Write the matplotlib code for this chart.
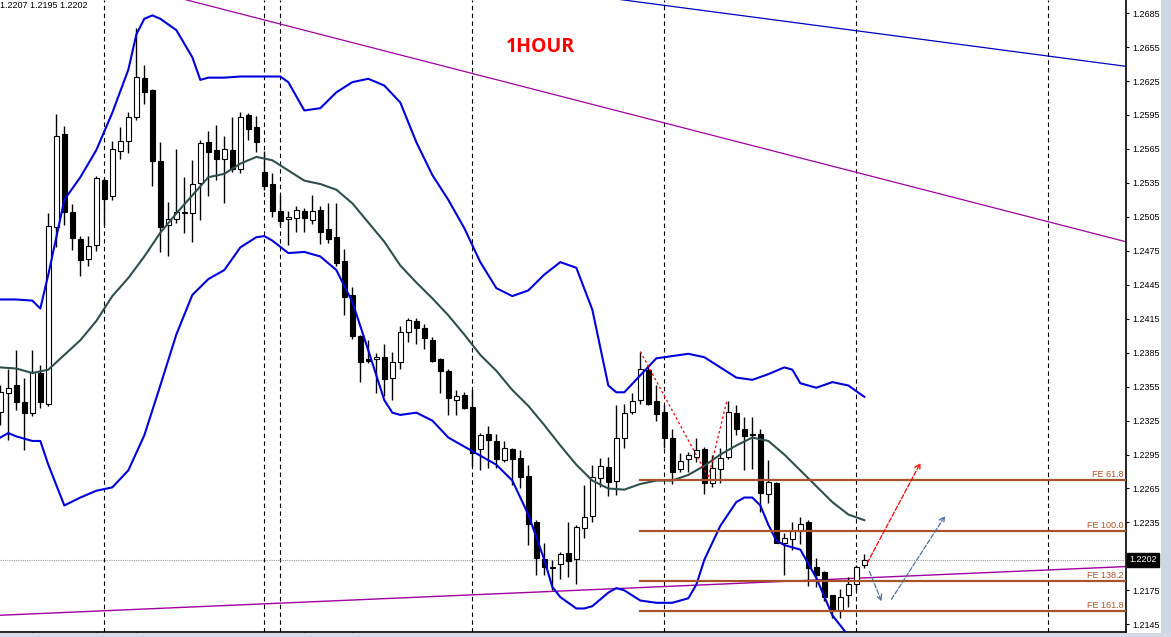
import matplotlib.pyplot as plt
from matplotlib.patches import Rectangle
import matplotlib.transforms as mtransforms

plt.rcParams['font.family'] = ['Liberation Sans', 'DejaVu Sans']

# EURUSD H1 candles, oldest first (bar 0 = left edge)
opens = [1.2333, 1.2349, 1.2356, 1.2341, 1.2332, 1.2367, 1.2340, 1.2496, 1.2578, 1.2509,
         1.2485, 1.2468, 1.2480, 1.2538, 1.2523, 1.2563, 1.2572, 1.2593, 1.2628, 1.2617,
         1.2554, 1.2498, 1.2503, 1.2508, 1.2508, 1.2535, 1.2571, 1.2564, 1.2556, 1.2564,
         1.2547, 1.2595, 1.2584, 1.2545, 1.2534, 1.2510, 1.2503, 1.2504, 1.2510, 1.2502,
         1.2511, 1.2494, 1.2487, 1.2466, 1.2436, 1.2400, 1.2379, 1.2379, 1.2381, 1.2363,
         1.2377, 1.2403, 1.2413, 1.2407, 1.2396, 1.2379, 1.2369, 1.2343, 1.2348, 1.2337,
         1.2300, 1.2313, 1.2307, 1.2290, 1.2300, 1.2292, 1.2276, 1.2235, 1.2203, 1.2196,
         1.2198, 1.2208, 1.2203, 1.2230, 1.2241, 1.2274, 1.2284, 1.2272, 1.2310, 1.2333,
         1.2343, 1.2370, 1.2342, 1.2333, 1.2310, 1.2282, 1.2291, 1.2293, 1.2300, 1.2270,
         1.2282, 1.2293, 1.2332, 1.2318, 1.2313, 1.2313, 1.2260, 1.2270, 1.2217, 1.2220,
         1.2227, 1.2235, 1.2196, 1.2191, 1.2171, 1.2157, 1.2171, 1.2181, 1.2197]
closes = [1.2350, 1.2354, 1.2341, 1.2332, 1.2368, 1.2341, 1.2497, 1.2576, 1.2509, 1.2486,
          1.2467, 1.2479, 1.2539, 1.2521, 1.2565, 1.2572, 1.2593, 1.2629, 1.2615, 1.2554,
          1.2496, 1.2503, 1.2509, 1.2509, 1.2534, 1.2570, 1.2562, 1.2556, 1.2565, 1.2547,
          1.2593, 1.2583, 1.2571, 1.2532, 1.2510, 1.2501, 1.2505, 1.2511, 1.2504, 1.2510,
          1.2492, 1.2485, 1.2464, 1.2434, 1.2400, 1.2377, 1.2378, 1.2381, 1.2362, 1.2377,
          1.2403, 1.2414, 1.2407, 1.2398, 1.2378, 1.2369, 1.2345, 1.2347, 1.2336, 1.2296,
          1.2312, 1.2308, 1.2291, 1.2301, 1.2291, 1.2275, 1.2234, 1.2204, 1.2196, 1.2195,
          1.2207, 1.2201, 1.2231, 1.2240, 1.2275, 1.2285, 1.2271, 1.2310, 1.2332, 1.2342,
          1.2371, 1.2340, 1.2331, 1.2310, 1.2280, 1.2289, 1.2295, 1.2299, 1.2270, 1.2283,
          1.2292, 1.2333, 1.2318, 1.2311, 1.2312, 1.2261, 1.2271, 1.2217, 1.2221, 1.2227,
          1.2234, 1.2195, 1.2189, 1.2169, 1.2158, 1.2169, 1.2181, 1.2196, 1.2202]
highs = [1.2356, 1.2371, 1.2387, 1.2363, 1.2387, 1.2374, 1.2508, 1.2596, 1.2585, 1.2516,
         1.2488, 1.2488, 1.2541, 1.2539, 1.2572, 1.2584, 1.2598, 1.2672, 1.2639, 1.2618,
         1.2571, 1.2518, 1.2565, 1.2540, 1.2555, 1.2573, 1.2581, 1.2586, 1.2576, 1.2593,
         1.2598, 1.2597, 1.2594, 1.2563, 1.2544, 1.2524, 1.2510, 1.2515, 1.2513, 1.2524,
         1.2515, 1.2517, 1.2517, 1.2477, 1.2443, 1.2401, 1.2396, 1.2385, 1.2393, 1.2386,
         1.2409, 1.2416, 1.2416, 1.2410, 1.2399, 1.2380, 1.2371, 1.2352, 1.2350, 1.2352,
         1.2314, 1.2320, 1.2313, 1.2307, 1.2301, 1.2299, 1.2286, 1.2237, 1.2217, 1.2202,
         1.2209, 1.2235, 1.2233, 1.2268, 1.2286, 1.2292, 1.2293, 1.2339, 1.2340, 1.2349,
         1.2386, 1.2372, 1.2356, 1.2339, 1.2318, 1.2296, 1.2297, 1.2310, 1.2302, 1.2295,
         1.2301, 1.2342, 1.2339, 1.2328, 1.2328, 1.2318, 1.2290, 1.2271, 1.2226, 1.2235,
         1.2240, 1.2237, 1.2204, 1.2192, 1.2171, 1.2176, 1.2187, 1.2197, 1.2207]
lows = [1.2321, 1.2308, 1.2334, 1.2299, 1.2329, 1.2336, 1.2338, 1.2478, 1.2498, 1.2476,
        1.2453, 1.2462, 1.2475, 1.2498, 1.2520, 1.2556, 1.2561, 1.2591, 1.2605, 1.2532,
        1.2474, 1.2470, 1.2500, 1.2491, 1.2483, 1.2502, 1.2523, 1.2538, 1.2517, 1.2545,
        1.2544, 1.2573, 1.2562, 1.2529, 1.2505, 1.2498, 1.2480, 1.2492, 1.2492, 1.2499,
        1.2481, 1.2482, 1.2462, 1.2418, 1.2397, 1.2359, 1.2376, 1.2349, 1.2347, 1.2343,
        1.2371, 1.2394, 1.2393, 1.2388, 1.2377, 1.2349, 1.2330, 1.2330, 1.2335, 1.2285,
        1.2281, 1.2283, 1.2283, 1.2288, 1.2268, 1.2265, 1.2215, 1.2189, 1.2189, 1.2175,
        1.2185, 1.2187, 1.2181, 1.2221, 1.2235, 1.2266, 1.2258, 1.2259, 1.2301, 1.2331,
        1.2340, 1.2339, 1.2325, 1.2301, 1.2269, 1.2280, 1.2280, 1.2288, 1.2260, 1.2266,
        1.2270, 1.2291, 1.2312, 1.2281, 1.2282, 1.2244, 1.2252, 1.2217, 1.2189, 1.2211,
        1.2216, 1.2179, 1.2178, 1.2166, 1.2151, 1.2151, 1.2160, 1.2175, 1.2195]

upper_bar = [0, 2, 4, 5, 6, 8, 10, 12, 14, 16, 17, 18, 19, 20, 22, 24, 25, 26, 28, 30, 32, 34, 35,
             36, 38, 40, 42, 44, 46, 48, 50, 52, 54, 56, 58, 60, 62, 64, 66, 68, 70, 72, 74, 76,
             77, 78, 80, 82, 84, 86, 88, 90, 92, 94, 96, 98, 99, 100, 102, 104, 106, 108]
upper_val = [1.2432, 1.2432, 1.2431, 1.2424, 1.2454, 1.2520, 1.2540, 1.2564, 1.2597, 1.2635,
             1.2666, 1.2680, 1.2683, 1.2680, 1.2670, 1.2646, 1.2626, 1.2628, 1.2628, 1.2629,
             1.2629, 1.2629, 1.2629, 1.2624, 1.2599, 1.2601, 1.2615, 1.2624, 1.2627, 1.2621,
             1.2606, 1.2571, 1.2542, 1.2520, 1.2495, 1.2465, 1.2442, 1.2435, 1.2440, 1.2454,
             1.2465, 1.2460, 1.2423, 1.2356, 1.2350, 1.2350, 1.2365, 1.2380, 1.2382, 1.2384,
             1.2381, 1.2372, 1.2363, 1.2361, 1.2366, 1.2372, 1.2370, 1.2358, 1.2354, 1.2359,
             1.2356, 1.2346]
middle_bar = list(range(0, 109, 2))
middle_val = [1.2372, 1.2371, 1.2367, 1.2370, 1.2383, 1.2396, 1.2413, 1.2435, 1.2451, 1.2470,
              1.2491, 1.2508, 1.2524, 1.2540, 1.2543, 1.2552, 1.2558, 1.2555, 1.2546, 1.2537,
              1.2534, 1.2529, 1.2517, 1.2500, 1.2483, 1.2462, 1.2447, 1.2433, 1.2418, 1.2401,
              1.2383, 1.2369, 1.2352, 1.2338, 1.2321, 1.2303, 1.2286, 1.2272, 1.2265, 1.2264,
              1.2269, 1.2272, 1.2272, 1.2277, 1.2285, 1.2295, 1.2303, 1.2310, 1.2307, 1.2295,
              1.2281, 1.2267, 1.2253, 1.2242, 1.2237]
lower_bar = [0, 1, 2, 4, 5, 6, 8, 10, 12, 14, 16, 18, 20, 22, 24, 26, 28, 30, 32, 33, 34, 36, 38,
             40, 42, 44, 46, 48, 49, 50, 52, 54, 56, 58, 60, 62, 64, 66, 68, 69, 70, 72, 73, 74,
             76, 77, 78, 80, 82, 84, 86, 87, 88, 90, 92, 93, 94, 95, 96, 97, 98, 100, 102, 104, 106]
lower_val = [1.2310, 1.2314, 1.2311, 1.2307, 1.2307, 1.2286, 1.2250, 1.2257, 1.2263, 1.2266,
             1.2281, 1.2312, 1.2356, 1.2401, 1.2436, 1.2450, 1.2458, 1.2478, 1.2487, 1.2488,
             1.2484, 1.2473, 1.2474, 1.2470, 1.2458, 1.2430, 1.2387, 1.2343, 1.2332, 1.2330,
             1.2332, 1.2325, 1.2310, 1.2302, 1.2294, 1.2286, 1.2272, 1.2242, 1.2202, 1.2178,
             1.2169, 1.2159, 1.2159, 1.2161, 1.2173, 1.2177, 1.2175, 1.2166, 1.2164, 1.2164,
             1.2168, 1.2180, 1.2202, 1.2232, 1.2253, 1.2257, 1.2257, 1.2250, 1.2233, 1.2219,
             1.2215, 1.2211, 1.2186, 1.2153, 1.2135]

# day separators (bar numbers)
separators = [13, 33, 35, 59, 83, 107, 131]

# trend lines: (bar, price) pairs
top_line = ([23.1, 140.7], [1.2697, 1.2483])
blue_line = ([77.5, 140.7], [1.2697, 1.2638])
low_line = ([0.0, 140.7], [1.2153, 1.2196])

# fibonacci expansion
fe_names = ['FE 61.8', 'FE 100.0', 'FE 138.2', 'FE 161.8']
fe_levels = [1.22725, 1.22277, 1.21835, 1.21570]
fe_start = 80
fe_path_bar = [80, 88.5, 90.8]
fe_path_val = [1.2386, 1.2275, 1.2342]

price_ticks = [1.2145, 1.2175, 1.2205, 1.2235, 1.2265, 1.2295, 1.2325, 1.2355, 1.2385, 1.2415,
               1.2445, 1.2475, 1.2505, 1.2535, 1.2565, 1.2595, 1.2625, 1.2655, 1.2685]
last_price = 1.2202
header = '1.2207 1.2195 1.2202'

fig = plt.figure(figsize=(11.71, 6.37), dpi=100)
ax = fig.add_axes([0, 5 / 637, 1126 / 1171, 632 / 637])
ax.set_xlim(-0.04, 140.71)
ax.set_ylim(1.21382, 1.26966)

for s in ['left', 'top']:
    ax.spines[s].set_visible(False)
for s in ['right', 'bottom']:
    ax.spines[s].set_linewidth(1.2)
ax.yaxis.tick_right()
ax.set_yticks(price_ticks)
# the label next to the last price is covered by the price box
labels = ['' if abs(p - last_price) < 0.0005 else '%.4f' % p for p in price_ticks]
ax.set_yticklabels(labels, fontsize=6.5)
ax.tick_params(axis='y', length=2.5, width=0.8, pad=2)
ax.set_xticks([4, 12, 17, 38, 44])
ax.set_xticklabels([])
ax.tick_params(axis='x', length=3, width=0.8)

# separators
for b in separators:
    ax.axvline(b, color='black', lw=0.8, ls=(0, (4, 3)), zorder=1)

# current price dotted line
ax.axhline(last_price, color='#9a9a9a', lw=0.8, ls=(0, (1, 1)), zorder=1)

# candles
for i in range(len(opens)):
    o, c, h, l = opens[i], closes[i], highs[i], lows[i]
    ax.vlines(i, l, h, color='black', lw=1.0, zorder=3)
    fc = 'white' if c >= o else 'black'
    ht = abs(c - o)
    if ht < 0.00004:
        ax.hlines((o + c) / 2, i - 0.32, i + 0.32, color='black', lw=1.0, zorder=4)
    else:
        ax.add_patch(Rectangle((i - 0.3, min(o, c)), 0.6, ht, facecolor=fc,
                               edgecolor='black', lw=0.8, zorder=4))

# bands
ax.plot(upper_bar, upper_val, color='#0000dd', lw=1.5, zorder=5)
ax.plot(lower_bar, lower_val, color='#0000dd', lw=1.5, zorder=5)
ax.plot(middle_bar, middle_val, color='#2f4f4f', lw=1.5, zorder=5)

# trend lines
ax.plot(top_line[0], top_line[1], color='#a000a0', lw=0.9, zorder=2)
ax.plot(blue_line[0], blue_line[1], color='#0000c0', lw=0.9, zorder=2)
ax.plot(low_line[0], low_line[1], color='#a000a0', lw=1.0, zorder=2)

# fibo expansion
for name, lv in zip(fe_names, fe_levels):
    ax.plot([fe_start, 140.71], [lv, lv], color='#a9532a', lw=1.6, zorder=6)
    ax.text(140.4, lv + 0.0001, name, color='#a9532a', fontsize=6.5,
            ha='right', va='bottom', zorder=7)
ax.plot(fe_path_bar[:2], fe_path_val[:2], color='red', lw=0.9, ls=(0, (2, 2)), zorder=6)
ax.plot(fe_path_bar[1:], fe_path_val[1:], color='red', lw=0.9, ls=(0, (2, 2)), zorder=6)

# projection arrows
ax.annotate('', xy=(115.2, 1.2290), xytext=(108.2, 1.2197),
            arrowprops=dict(arrowstyle='->', color='red', lw=0.9, ls='--'), zorder=6)
ax.annotate('', xy=(110.3, 1.2163), xytext=(108.5, 1.2194),
            arrowprops=dict(arrowstyle='->', color='#4a6fa0', lw=0.9, ls='--'), zorder=6)
ax.annotate('', xy=(118.3, 1.2243), xytext=(111.2, 1.2165),
            arrowprops=dict(arrowstyle='->', color='#4a6fa0', lw=0.9, ls='--'), zorder=6)

ax.text(67.5, 1.2655, '1HOUR', color='#ff0000', fontsize=14, fontweight='bold',
        ha='center', va='center', family=['Open Sans', 'DejaVu Sans'])

# last price box on the axis
trans = mtransforms.blended_transform_factory(ax.transAxes, ax.transData)
ax.text(1.003, last_price, '%.4f' % last_price, transform=trans, color='white',
        fontsize=6.5, ha='left', va='center', clip_on=False,
        bbox=dict(boxstyle='square,pad=0.25', facecolor='black', edgecolor='black'))

fig.text(0.0, 0.999, header, fontsize=6.5, ha='left', va='top')

# window scrollbar strips
fig.patches.append(Rectangle((1161 / 1171, 0), 10 / 1171, 1, transform=fig.transFigure,
                             facecolor='#cdd6e3', edgecolor='none'))
fig.patches.append(Rectangle((0, 0), 1, 4 / 637, transform=fig.transFigure,
                             facecolor='#d3dbe6', edgecolor='none'))

fig.savefig('out.png', dpi=100)
